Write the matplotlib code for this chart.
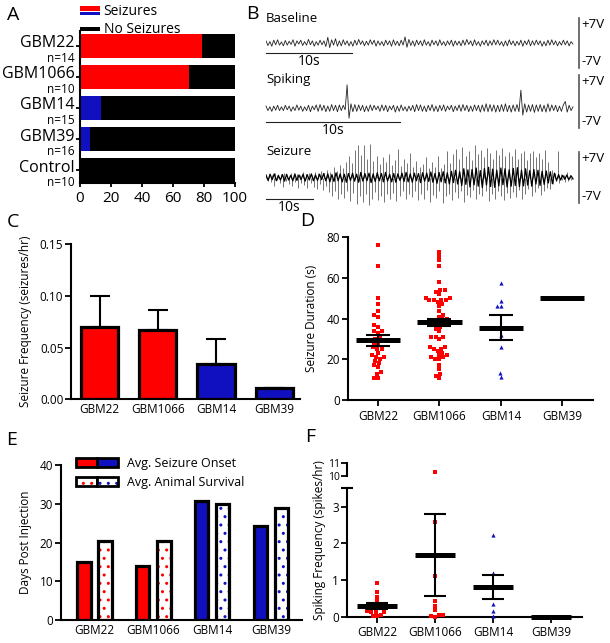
import numpy as np
import matplotlib
matplotlib.use("Agg")
from matplotlib import pyplot as plt
from matplotlib.patches import Rectangle, Patch
from matplotlib.legend_handler import HandlerBase
from matplotlib.transforms import ScaledTranslation
import seaborn as sns

plt.rcParams["font.family"] = ["Open Sans", "DejaVu Sans"]

RED = "#ff0000"
BLUE = "#1010c0"
W, H = 610, 643

# ---- A: share of animals with seizures (%)
a_groups = ["GBM22", "GBM1066", "GBM14", "GBM39", "Control"]
a_n = [14, 10, 15, 16, 10]
a_seizure_pct = [78.6, 70.0, 13.3, 6.25, 0.0]
a_colors = [RED, RED, BLUE, BLUE, BLUE]

# ---- B: EEG traces (volts)
baseline_secs = 35.7
baseline_trace = [
    0.6, -0.7, 0.4, -0.9, 0.8, -0.5, 0.9, -0.6, 0.3, -0.8,
    0.7, -0.6, 0.5, -0.4, 0.9, -0.9, 0.6, -0.3, 0.8, -0.7,
    0.4, -0.6, 1.0, -0.5, 0.6, -0.9, 0.4, -0.6, 0.8, -0.5,
    0.6, -1.0, 1.6, -1.3, 0.9, -0.6, 1.2, -0.9, 0.6, -0.8,
    0.9, -0.5, 0.6, -0.8, 0.4, -0.9, 0.8, -0.6, 1.0, -0.4,
    0.6, -0.8, 0.5, -0.6, 0.9, -0.4, 0.8, -0.9, 0.6, -0.6,
    0.4, -0.8, 0.8, -0.5, 0.6, -0.9, 0.9, -0.6, 0.5, -0.8,
    0.8, -0.6, 1.7, -1.2, 1.0, -0.7, 0.6, -0.9, 0.8, -0.5,
    0.6, -0.8, 0.9, -0.6, 0.4, -0.9, 0.8, -0.5, 0.6, -0.8,
    0.9, -0.6, 0.4, -0.8, 0.6, -0.5, 0.8, -0.9, 0.6, -0.6,
    0.5, -0.8, 0.8, -0.6, 1.0, -0.4, 0.6, -0.8, 0.9, -0.6,
    0.4, -0.9, 0.6, -0.5, 0.8, -0.8, 0.6, -0.6, 0.9, -0.5,
    0.8, -0.6, 0.4, -0.9, 0.6, -0.8, 0.9, -0.5, 0.6, -0.8,
    0.5, -0.6, 0.8, -0.9, 0.6, -0.5, 0.9, -0.8, 0.6, -0.6,
    0.8, -0.5, 0.6, -0.9, 0.4, -0.8, 0.8, -0.6, 0.9, -0.5,
    0.6, -0.8, 0.4, -0.6, 0.8, -0.5, 0.6, -0.8, 0.4, -0.3,
]
spiking_secs = 22.9
spiking_offset = -1.8
spiking_trace = [
    0.6, -0.6, 0.4, -0.8, 0.6, -0.5, 0.8, -0.6, 0.4, -0.6,
    0.8, -0.4, 0.6, -0.8, 0.4, -0.6, 0.9, -0.5, 0.6, -0.8,
    0.4, -0.6, 0.8, -0.9, 0.6, -0.4, 0.9, -0.8, 1.0, -0.6,
    0.8, -0.9, 0.6, -0.8, 1.0, -0.6, 0.8, -0.9, 0.9, -0.6,
    0.8, -0.4, 6.2, -2.6, 1.2, -0.9, 1.0, -0.8, 0.9, -0.6,
    0.8, -0.9, 0.6, -0.8, 0.9, -0.6, 0.8, -0.4, 0.6, -0.8,
    0.9, -0.6, 0.8, -0.9, 0.6, -0.4, 0.8, -1.0, 0.6, -0.8,
    0.9, -0.6, 0.4, -0.8, 0.6, -0.6, 0.8, -0.9, 1.0, -0.6,
    0.9, -0.8, 0.6, -0.9, 0.8, -0.6, 1.0, -0.8, 0.6, -0.9,
    0.8, -0.6, 0.9, -0.8, 0.6, -0.4, 0.8, -0.9, 0.6, -0.6,
    0.9, -0.8, 1.0, -0.6, 0.8, -0.9, 0.6, -0.8, 0.9, -0.6,
    0.8, -1.0, 0.9, -0.8, 1.2, -0.9, 1.0, -0.8, 0.9, -1.0,
    0.8, -0.9, 1.0, -0.8, 1.2, -0.9, 0.8, -1.0, 0.9, -0.8,
    1.0, -0.9, 4.8, -1.8, 1.2, -1.0, 0.9, -0.8, 1.0, -1.1,
    0.9, -0.8, 1.0, -0.9, 0.8, -1.0, 1.2, -0.8, 0.9, -0.6,
    0.8, -0.9, 0.6, -0.8, 0.9, 1.8, -1.0, 0.8, -0.6, 0.4,
]
seizure_secs = 65.3
# upward / downward spike peaks, in time order
seizure_hi = [
    0.8, 1.0, 0.6, 1.2, 0.7, 0.9, 1.1, 0.6, 1.3, 0.8,
    1.0, 0.7, 1.4, 0.9, 1.2, 0.8, 1.5, 1.1, 1.8, 1.3,
    2.0, 1.5, 2.8, 1.8, 3.5, 2.6, 4.2, 5.8, 3.9, 7.5,
    9.0, 6.2, 8.8, 5.0, 9.2, 4.5, 6.0, 3.8, 5.5, 4.2,
    6.5, 3.5, 4.8, 7.8, 3.2, 5.2, 4.0, 6.8, 3.0, 4.5,
    2.8, 3.6, 5.5, 2.5, 4.2, 3.0, 6.0, 2.6, 3.8, 7.2,
    4.0, 6.5, 7.8, 5.2, 8.5, 6.0, 7.2, 4.8, 8.8, 6.4,
    7.5, 5.5, 8.2, 6.8, 5.0, 7.6, 6.2, 8.0, 5.8, 7.0,
    6.0, 7.8, 5.2, 6.8, 7.4, 4.8, 6.6, 7.2, 5.5, 6.8,
    5.0, 7.5, 4.2, 2.0, 1.2, 7.2, 1.0, 0.8, 1.5, 0.6,
]
seizure_lo = [
    -0.9, -1.2, -2.2, -0.8, -1.5, -2.6, -1.0, -1.8, -2.4, -1.1,
    -2.8, -1.4, -2.0, -3.0, -1.6, -2.5, -3.2, -1.8, -3.5, -2.2,
    -4.0, -5.2, -3.6, -6.0, -4.5, -5.6, -3.8, -6.5, -4.2, -7.2,
    -5.0, -6.8, -4.4, -7.5, -5.8, -4.0, -6.2, -5.0, -6.6, -4.6,
    -5.8, -4.2, -6.4, -5.2, -3.8, -6.0, -4.6, -5.4, -3.6, -6.2,
    -4.4, -5.8, -3.4, -6.8, -4.8, -5.6, -3.8, -7.0, -5.2, -4.4,
    -6.2, -4.0, -5.6, -3.6, -6.6, -4.8, -5.4, -3.4, -6.0, -4.6,
    -5.2, -3.8, -6.4, -4.4, -5.8, -3.6, -5.0, -6.2, -4.2, -5.6,
    -4.0, -5.4, -3.4, -6.0, -4.6, -3.2, -5.2, -4.0, -3.0, -4.8,
    -3.6, -2.8, -3.2, -1.8, -1.0, -1.4, -0.8, -1.2, -0.9, -0.7,
]
seizure_band = [
    0.7, -0.8, 0.9, -0.6, 1.0, -0.9, 0.6, -0.7, 0.8, -1.0,
    0.9, -0.7, 0.6, -0.9, 1.0, -0.8, 0.7, -0.6, 0.9, -1.0,
    0.8, -0.7, 1.0, -0.9, 0.7, -0.8, 0.9, -0.6, 1.1, -0.9,
    1.0, -1.2, 0.8, -1.1, 1.3, -0.9, 1.0, -1.2, 0.9, -1.3,
    1.1, -0.8, 1.2, -1.0, 0.9, -1.3, 1.4, -1.0, 1.1, -0.9,
    1.2, -1.4, 1.0, -1.1, 1.3, -0.9, 1.1, -1.2, 1.4, -1.0,
    0.9, -1.2, 1.1, -1.3, 1.0, -0.8, 1.2, -1.1, 1.4, -1.2,
    1.0, -1.3, 1.2, -0.9, 1.1, -1.4, 1.3, -1.0, 1.2, -1.1,
    1.5, -1.3, 1.1, -1.6, 1.4, -1.2, 1.6, -1.5, 1.3, -1.8,
    1.7, -1.4, 2.0, -1.8, 1.6, -2.2, 2.4, -1.9, 2.1, -2.6,
    2.2, -2.0, 2.6, -2.4, 1.9, -2.8, 2.5, -2.1, 2.8, -2.5,
    2.3, -2.7, 2.0, -2.3, 2.6, -2.0, 2.4, -2.6, 2.1, -2.4,
    2.5, -2.2, 2.7, -2.5, 2.0, -2.3, 2.4, -2.1, 1.9, -2.4,
    2.2, -1.8, 2.0, -2.2, 1.7, -1.9, 1.8, -1.5, 1.6, -1.7,
    1.2, -0.9, 0.8, -0.7, 0.6, -0.5, 0.7, -0.6, 0.5, -0.4,
]
scale_secs = 10
scale_volts = 7

# ---- C: seizure frequency
groups = ["GBM22", "GBM1066", "GBM14", "GBM39"]
group_colors = [RED, RED, BLUE, BLUE]
freq_mean = [0.070, 0.067, 0.034, 0.011]
freq_err = [0.030, 0.019, 0.024, 0.0]

# ---- D: seizure duration (s)
dur_gbm22 = [76, 66, 50, 47, 44, 42, 41, 37, 36, 34, 34, 33, 31, 30, 29, 28, 27,
             26, 25, 25, 23, 22, 21, 21, 20, 19, 18, 17, 16, 14, 13, 11, 11]
dur_gbm1066 = [73, 71, 69, 66, 58, 54, 54, 53, 52, 50, 50, 49, 49, 49, 49, 48, 47,
               46, 44, 42, 41, 40, 40, 39, 39, 38, 38, 37, 36, 35, 34, 31, 31, 31,
               30, 26, 26, 25, 25, 24, 23, 22, 22, 21, 21, 20, 20, 17, 15, 13, 12, 11]
dur_gbm14 = [57.5, 48.5, 46, 46, 32, 26, 13.5, 11.5]
dur_mean = [29.3, 38.2, 35.6, 50.0]
dur_sem = [2.6, 1.8, 6.0, 0.0]

# ---- E: days post injection
onset_days = [14.9, 13.9, 30.8, 24.2]
survival_days = [20.5, 20.3, 29.9, 28.8]

# ---- F: spiking frequency (spikes/hr)
spk_gbm22 = [0.93, 0.68, 0.55, 0.42, 0.35, 0.32, 0.30, 0.15, 0.14, 0.13, 0.12, 0.05, 0.02, 0.01]
spk_gbm1066 = [10.3, 2.57, 1.1, 0.43, 0.3, 0.17, 0.05, 0.05, 0.02, 0.0]
spk_gbm14 = [2.23, 1.18, 0.85, 0.35, 0.15, 0.03]
spk_mean = [0.29, 1.68, 0.81, 0.0]
spk_sem = [0.085, 1.12, 0.34, 0.0]

TICK = 8.5


def px_axes(fig, left, top, right, bottom):
    return fig.add_axes([left / W, 1 - bottom / H, (right - left) / W, (bottom - top) / H])


def style(ax, xticks=True):
    for s in ("top", "right"):
        ax.spines[s].set_visible(False)
    for s in ("left", "bottom"):
        ax.spines[s].set_linewidth(1.5)
    ax.tick_params(axis="y", length=4, width=1.3, pad=1.5, labelsize=TICK)
    ax.tick_params(axis="x", length=4 if xticks else 0, width=1.3, pad=3, labelsize=TICK)


class SplitHandler(HandlerBase):
    def create_artists(self, legend, orig_handle, xdescent, ydescent, width, height, fontsize, trans):
        x0, y0 = -xdescent, -ydescent
        return [Rectangle((x0, y0 + 0.45 * height), width, 0.6 * height, facecolor=RED, transform=trans),
                Rectangle((x0, y0 - 0.05 * height), width, 0.38 * height, facecolor=BLUE, transform=trans)]


class BarHandler(HandlerBase):
    def create_artists(self, legend, orig_handle, xdescent, ydescent, width, height, fontsize, trans):
        return [Rectangle((-xdescent, -ydescent + 0.2 * height), width, 0.5 * height,
                          facecolor="black", transform=trans)]


class PairHandler(HandlerBase):
    def __init__(self, colors, dotted):
        super().__init__()
        self.colors = colors
        self.dotted = dotted

    def create_artists(self, legend, orig_handle, xdescent, ydescent, width, height, fontsize, trans):
        arts = []
        half = width / 2
        for i, c in enumerate(self.colors):
            x0 = -xdescent + i * half
            if self.dotted:
                arts.append(Rectangle((x0, -ydescent), half, height, facecolor="white", edgecolor=c,
                                      lw=0, hatch="..", transform=trans))
                arts.append(Rectangle((x0, -ydescent), half, height, facecolor="none", edgecolor="k",
                                      lw=2, transform=trans))
            else:
                arts.append(Rectangle((x0, -ydescent), half, height, facecolor=c, edgecolor="k",
                                      lw=2, transform=trans))
        return arts


def mean_sem(ax, means, sems, half=0.35, cap=8.0):
    x = np.arange(len(means))
    ax.hlines(means, x - half, x + half, color="k", lw=3.6, zorder=4)
    ax.errorbar(x, means, yerr=sems, fmt="none", ecolor="k", elinewidth=1.5,
                capsize=cap, capthick=1.5, zorder=4)


def swarm(ax, values, pos, color, marker, size=3.0):
    sns.swarmplot(x=np.full(len(values), pos), y=values, native_scale=True, orient="v",
                  color=color, marker=marker, size=size, linewidth=0, ax=ax)


fig = plt.figure(figsize=(W / 100, H / 100), dpi=100)

# ---------------- A
ax = px_axes(fig, 80, 31, 235, 183)
ya = np.arange(len(a_groups))
pct = np.array(a_seizure_pct)
ax.barh(ya, pct, height=0.77, color=a_colors)
ax.barh(ya, 100 - pct, left=pct, height=0.77, color="black")
ax.set_ylim(4.42, -0.48)
ax.set_xlim(0, 100)
ax.set_xticks(range(0, 101, 20))
ax.set_yticks(ya)
ax.set_yticklabels(a_groups)
style(ax)
ax.tick_params(axis="x", labelsize=11, length=3)
ax.tick_params(axis="y", labelsize=11.5, length=3, pad=1)
lift = ScaledTranslation(0, 3.2 / 72, fig.dpi_scale_trans)
for lbl in ax.get_yticklabels():
    lbl.set_transform(lbl.get_transform() + lift)
    lbl.set_verticalalignment("center_baseline")
for yi, n in zip(ya, a_n):
    ax.text(-0.035, yi + 0.36, f"n={n}", transform=ax.get_yaxis_transform(),
            ha="right", va="center_baseline", fontsize=8.5)
h1, h2 = Patch(), Patch()
ax.legend([h1, h2], ["Seizures", "No Seizures"], handler_map={h1: SplitHandler(), h2: BarHandler()},
          loc="upper left", bbox_to_anchor=(0.0, 1.175), frameon=False, fontsize=10,
          handlelength=1.45, handleheight=0.6, handletextpad=0.25, labelspacing=0.2,
          borderpad=0, borderaxespad=0)


# ---------------- B
def trace_panel(top, bottom, secs, label, label_v, bar_v):
    tax = px_axes(fig, 266, top, 579, bottom)
    xmax = secs * 313 / 307
    tax.set_xlim(0, xmax)
    tax.set_ylim(-scale_volts, scale_volts)
    tax.axis("off")
    tax.plot([0, scale_secs], [bar_v, bar_v], color="#222222", lw=0.8, clip_on=False)
    tax.annotate("10s", (scale_secs / 2, bar_v), xytext=(0, -1), textcoords="offset points",
                 ha="center", va="top", fontsize=10)
    tax.plot([xmax, xmax], [-scale_volts, scale_volts], color="#555555", lw=1.2, clip_on=False)
    tax.annotate("+7V", (xmax, scale_volts), xytext=(2, 0), textcoords="offset points",
                 ha="left", va="top", fontsize=9.5)
    tax.annotate("-7V", (xmax, -scale_volts), xytext=(2, 0), textcoords="offset points",
                 ha="left", va="bottom", fontsize=9.5)
    tax.text(0, label_v, label, ha="left", va="center", fontsize=9.5)
    return tax


bax = trace_panel(18, 68, baseline_secs, "Baseline", 6.9, -2.7)
bax.plot(np.linspace(0, baseline_secs, len(baseline_trace)), baseline_trace, color="#222222", lw=0.6)

pax = trace_panel(75, 128, spiking_secs, "Spiking", 5.7, -5.3)
pax.plot(np.linspace(0, spiking_secs, len(spiking_trace)), np.array(spiking_trace) + spiking_offset,
         color="#222222", lw=0.6, clip_on=False)

sax = trace_panel(152, 203, seizure_secs, "Seizure", 7.1, -5.9)
n_sp = len(seizure_hi)
t_hi = np.arange(n_sp) / n_sp * seizure_secs
t_lo = (np.arange(n_sp) + 0.5) / n_sp * seizure_secs
sax.vlines(t_hi, 0, seizure_hi, color="#6a6a6a", lw=0.65, clip_on=False)
sax.vlines(t_lo, seizure_lo, 0, color="#6a6a6a", lw=0.65, clip_on=False)
sax.plot(np.linspace(0, seizure_secs, len(seizure_band)), seizure_band, color="black", lw=0.9)

# ---------------- C
ax = px_axes(fig, 71, 244, 300, 399.3)
xc = np.arange(len(groups))
ax.errorbar(xc, freq_mean, yerr=[np.zeros(len(groups)), freq_err], fmt="none", ecolor="k",
            elinewidth=1.5, capsize=7.2, capthick=1.5, zorder=1)
ax.bar(xc, freq_mean, width=0.64, color=group_colors, edgecolor="k", linewidth=2.3, zorder=2)
ax.set_xlim(-0.49, 3.44)
ax.set_ylim(0, 0.15)
ax.set_yticks([0, 0.05, 0.10, 0.15])
ax.set_yticklabels(["0.00", "0.05", "0.10", "0.15"])
ax.set_xticks(xc)
ax.set_xticklabels(groups)
style(ax, xticks=False)
ax.set_ylabel("Seizure Frequency (seizures/hr)", fontsize=TICK)
ax.yaxis.set_label_coords(-0.17, 0.5)

# ---------------- D
ax = px_axes(fig, 348, 237.3, 593, 400)
swarm(ax, dur_gbm22, 0, RED, "s")
swarm(ax, dur_gbm1066, 1, RED, "s")
swarm(ax, dur_gbm14, 2, BLUE, "^")
mean_sem(ax, dur_mean, dur_sem, half=0.36, cap=8.5)
ax.set_xlim(-0.49, 3.5)
ax.set_ylim(0, 80)
ax.set_yticks(range(0, 81, 20))
ax.set_xticks(range(4))
ax.set_xticklabels(groups)
style(ax)
ax.set_ylabel("Seizure Duration (s)", fontsize=TICK)
ax.yaxis.set_label_coords(-0.122, 0.5)

# ---------------- E
ax = px_axes(fig, 61, 465, 302, 620)
xe = np.arange(len(groups))
ax.bar(xe - 0.18, onset_days, 0.23, color=group_colors, edgecolor="k", linewidth=2.3)
ax.bar(xe + 0.18, survival_days, 0.23, color="white", edgecolor=group_colors, linewidth=0, hatch="..")
ax.bar(xe + 0.18, survival_days, 0.23, color="none", edgecolor="k", linewidth=2.3)
ax.set_xlim(-0.57, 3.53)
ax.set_ylim(0, 40)
ax.set_yticks(range(0, 41, 10))
ax.set_xticks(xe)
ax.set_xticklabels(groups)
style(ax, xticks=False)
ax.set_ylabel("Days Post Injection", fontsize=TICK)
ax.yaxis.set_label_coords(-0.12, 0.5)
e1, e2 = Patch(), Patch()
ax.legend([e1, e2], ["Avg. Seizure Onset", "Avg. Animal Survival"],
          handler_map={e1: PairHandler([RED, BLUE], False), e2: PairHandler([RED, BLUE], True)},
          loc="upper left", bbox_to_anchor=(0.062, 1.05), frameon=False, fontsize=9,
          handlelength=3.4, handleheight=0.75, handletextpad=0.7, labelspacing=0.45,
          borderpad=0, borderaxespad=0)

# ---------------- F (broken y axis)
low = px_axes(fig, 346.7, 488.3, 581.7, 616.7)
up = px_axes(fig, 346.7, 462.7, 581.7, 476)
swarm(low, [v for v in spk_gbm22 if v < 3.5], 0, RED, "s")
swarm(low, [v for v in spk_gbm1066 if v < 3.5], 1, RED, "s")
swarm(low, [v for v in spk_gbm14 if v < 3.5], 2, BLUE, "^")
swarm(up, [v for v in spk_gbm1066 if v >= 10], 1, RED, "s")
mean_sem(low, spk_mean, spk_sem, half=0.34, cap=8.0)
for a in (low, up):
    a.set_xlim(-0.52, 3.53)
    for c in a.collections:
        c.set_clip_on(False)
low.set_ylim(0, 3.5)
low.set_yticks([0, 1, 2, 3])
low.set_xticks(range(4))
low.set_xticklabels(groups)
style(low)
low.plot([0], [1], marker="_", markersize=8, mew=1.5, color="k", transform=low.transAxes, clip_on=False)
up.set_ylim(10, 11)
up.set_yticks([10, 11])
style(up)
up.spines["bottom"].set_visible(False)
up.set_xticks([])
up.tick_params(axis="y", labelsize=7.5, pad=1)
fig.text(319 / W, 1 - 540 / H, "Spiking Frequency (spikes/hr)", rotation=90,
         ha="center", va="center", fontsize=TICK)

# ---------------- panel letters
for letter, (px, py) in {"A": (13, 15), "B": (252, 14), "C": (13, 222), "D": (307, 221),
                         "E": (12, 440), "F": (310, 437)}.items():
    fig.text(px / W, 1 - py / H, letter, fontsize=14, ha="center", va="center")

fig.savefig("out.png", dpi=100)
